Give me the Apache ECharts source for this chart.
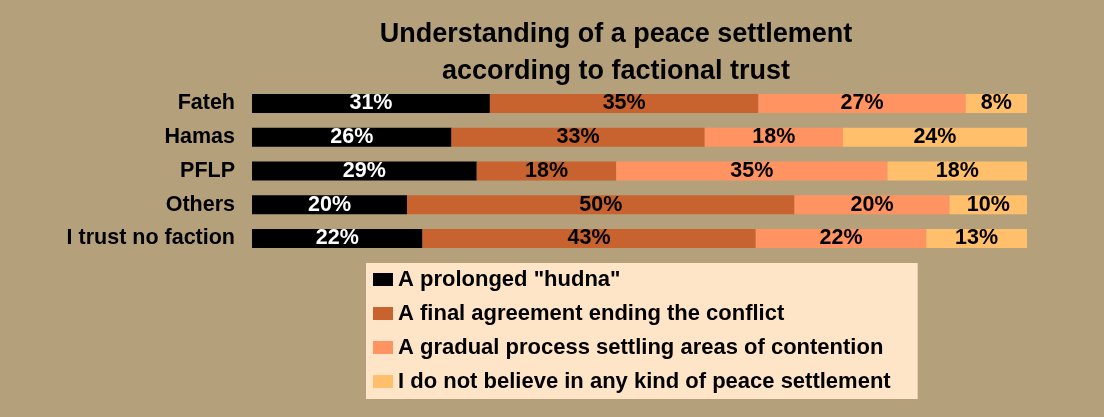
<!DOCTYPE html>
<html>
<head>
<meta charset="utf-8">
<title>Understanding of a peace settlement</title>
<script src="https://cdn.jsdelivr.net/npm/echarts@6/dist/echarts.min.js"></script>
<style>
  html, body { margin: 0; padding: 0; background: #b4a07a; }
  #chart { width: 1104px; height: 417px; }
</style>
</head>
<body>
<div id="chart"></div>
<script>
// factions (top to bottom)
const factions = ['Fateh', 'Hamas', 'PFLP', 'Others', 'I trust no faction'];

// answers, in stacking order
const answers = [
  'A prolonged "hudna"',
  'A final agreement ending the conflict',
  'A gradual process settling areas of contention',
  'I do not believe in any kind of peace settlement'
];

// percentages per answer, one value per faction
const hudna = [31, 26, 29, 20, 22];
const finalAgreement = [35, 33, 18, 50, 43];
const gradualProcess = [27, 18, 35, 20, 22];
const noSettlement = [8, 24, 18, 10, 13];

const colors = ['#000000', '#c8632f', '#ff9462', '#ffbf6b'];
const font = '"Liberation Sans", Arial, sans-serif';

const seriesValues = [hudna, finalAgreement, gradualProcess, noSettlement];

// rows are shown as 100% bars, labels keep the rounded figures
const rowTotals = factions.map((f, i) => seriesValues.reduce((s, arr) => s + arr[i], 0));

const chart = echarts.init(document.getElementById('chart'));

chart.setOption({
  backgroundColor: '#b4a07a',
  animation: false,
  textStyle: { fontFamily: font },
  title: {
    text: 'Understanding of a peace settlement\naccording to factional trust',
    left: 616,
    top: 16,
    padding: 0,
    textAlign: 'center',
    textStyle: {
      fontFamily: font,
      fontSize: 27,
      fontWeight: 'bold',
      color: '#000',
      lineHeight: 37
    }
  },
  legend: {
    data: answers,
    orient: 'vertical',
    left: 366,
    top: 263,
    padding: [4.5, 27, 5.5, 7],
    backgroundColor: '#ffe5c8',
    itemWidth: 20,
    itemHeight: 13,
    itemGap: 10,
    icon: 'rect',
    textStyle: {
      fontFamily: font,
      fontSize: 22,
      fontWeight: 'bold',
      color: '#000',
      lineHeight: 24
    }
  },
  grid: {
    left: 252,
    right: 77,
    top: 86.6,
    height: 168.8
  },
  xAxis: {
    type: 'value',
    min: 0,
    max: 100,
    show: false
  },
  yAxis: {
    type: 'category',
    data: factions,
    inverse: true,
    axisLine: { show: false },
    axisTick: { show: false },
    splitLine: { show: false },
    axisLabel: {
      margin: 17,
      fontFamily: font,
      fontSize: 21.5,
      fontWeight: 'bold',
      color: '#000'
    }
  },
  series: answers.map((name, k) => ({
    name: name,
    type: 'bar',
    stack: 'total',
    barWidth: 19,
    itemStyle: { color: colors[k] },
    label: {
      show: true,
      position: 'inside',
      fontFamily: font,
      fontSize: 21.5,
      fontWeight: 'bold',
      color: k === 0 ? '#fff' : '#000',
      formatter: p => p.data.raw + '%'
    },
    data: seriesValues[k].map((v, i) => ({
      value: v / rowTotals[i] * 100,
      raw: v
    }))
  }))
});
</script>
</body>
</html>
